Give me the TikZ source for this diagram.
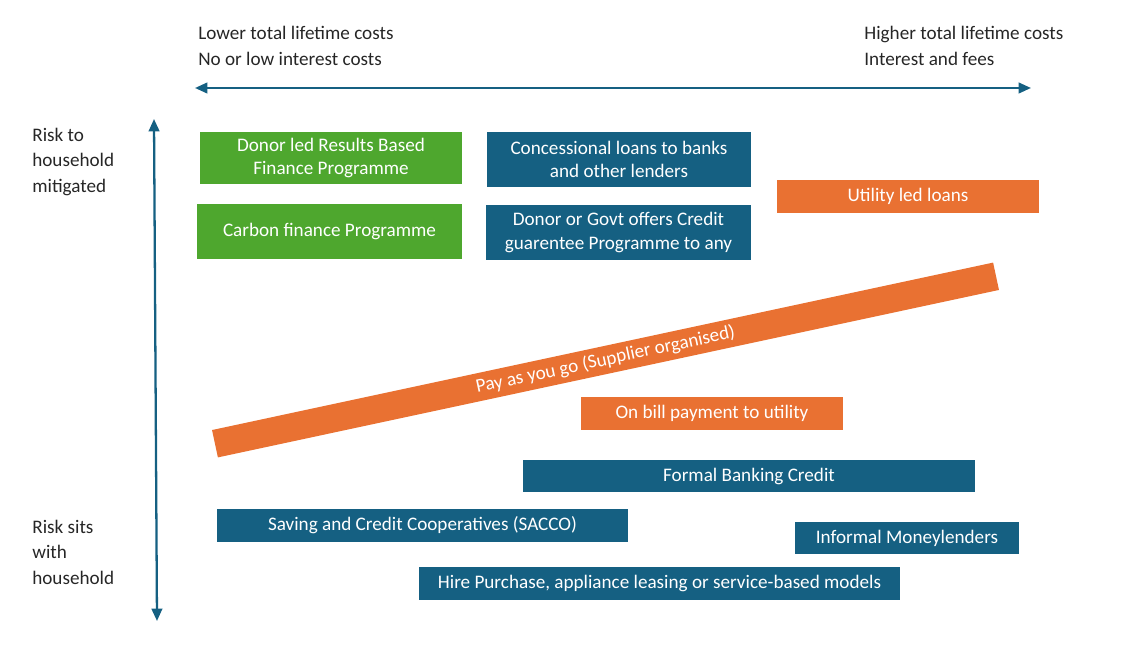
\documentclass[tikz,border=0pt]{standalone}
\usepackage{fontspec}
\setmainfont{Carlito}
\usepackage{xcolor}
\usetikzlibrary{arrows.meta,positioning}
\definecolor{ofgreen}{HTML}{4EA72E}
\definecolor{ofblue}{HTML}{156082}
\definecolor{oforange}{HTML}{E97132}

\begin{document}
\begin{tikzpicture}[
  x=0.02cm, y=-0.02cm,
  >={Triangle[length=7pt,width=6pt]},
  font=\fontsize{10.9}{13.1}\selectfont,
  box/.style={fill=#1, text=white, align=center, inner sep=0pt},
  lbl/.style={anchor=west, align=left, inner sep=0pt, text=black!85},
  axis/.style={draw=ofblue, line width=1.3pt},
]
\useasboundingbox (0,0) rectangle (1126,651);

%─── Cost axis ───────────────────────────────────────────────────────────────
\node[lbl, font=\fontsize{10.9}{14.8}\selectfont] (lowcost) at (198,46)
      {Lower total lifetime costs\\No or low interest costs};
\node[lbl, font=\fontsize{10.9}{14.8}\selectfont] (highcost) at (864,46)
      {Higher total lifetime costs\\Interest and fees};
\coordinate (costL) at (195,88);
\coordinate (costR) at (1031,88);
\draw[axis, <->] (costL) -- (costR);

%─── Risk axis ───────────────────────────────────────────────────────────────
\node[lbl, font=\fontsize{10.9}{14.5}\selectfont] (mitig) at (32,162)
      {Risk to\\household\\mitigated};
\node[lbl, font=\fontsize{10.9}{14.5}\selectfont] (sits) at (32,552)
      {Risk sits\\with\\household};
\coordinate (riskT) at (154,119);
\coordinate (riskB) at (157,621);
\draw[axis, <->] (riskB) -- (riskT);

%─── Low-risk programmes ─────────────────────────────────────────────────────
\node[box=ofgreen, minimum width=5.24cm, minimum height=1.04cm] (rbf) at (331,158)
      {Donor led Results Based\\Finance Programme};
\node[box=ofgreen, minimum width=5.3cm, minimum height=1.1cm] (carbon) at (329.5,231.5)
      {Carbon finance Programme};
\node[box=ofblue, minimum width=5.28cm, minimum height=1.1cm] (concess) at (619,159.5)
      {Concessional loans to banks\\and other lenders};
\node[box=ofblue, minimum width=5.3cm, minimum height=1.1cm] (guarantee) at (618.5,232.5)
      {Donor or Govt offers Credit\\guarentee Programme to any};
\node[box=oforange, minimum width=5.24cm, minimum height=0.66cm] (utility) at (908,196.5)
      {Utility led loans};

% slanted bar
\node[box=oforange, minimum width=15.98cm, minimum height=0.56cm, rotate=12.1] (payg) at (605.5,360)
      {Pay as you go (Supplier organised)};

%─── Household-risk options ──────────────────────────────────────────────────
\node[box=oforange, minimum width=5.24cm, minimum height=0.66cm] (onbill) at (712,413.5)
      {On bill payment to utility};
\node[box=ofblue, minimum width=9.04cm, minimum height=0.64cm] (formal) at (749,476)
      {Formal Banking Credit};
\node[box=ofblue, minimum width=8.22cm, minimum height=0.66cm] (sacco) at (422.5,525.5)
      {Saving and Credit Cooperatives (SACCO)};
\node[box=ofblue, minimum width=4.48cm, minimum height=0.64cm] (informal) at (907,538)
      {Informal Moneylenders};
\node[box=ofblue, minimum width=9.62cm, minimum height=0.66cm] (hire) at (659.5,583.5)
      {Hire Purchase, appliance leasing or service-based models};

\end{tikzpicture}
\end{document}
